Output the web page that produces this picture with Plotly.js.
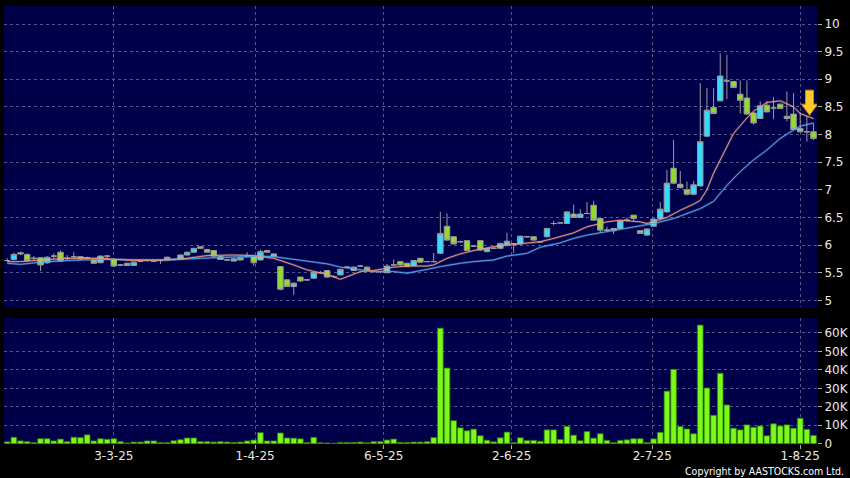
<!DOCTYPE html>
<html>
<head>
<meta charset="utf-8">
<script src="https://cdn.plot.ly/plotly-3.0.1.min.js"></script>
<style>
  html, body { margin: 0; padding: 0; background: #000; }
  #chart { width: 850px; height: 478px; }
</style>
</head>
<body>
<div id="chart"></div>
<script>
// ---- Data (trading-day index order) ----
const openPx = [5.72,5.74,5.86,5.83,5.76,5.77,5.68,5.80,5.87,5.76,
  5.79,5.79,5.77,5.73,5.68,5.80,5.74,5.64,5.63,5.63,
  5.71,5.72,5.71,5.72,5.78,5.74,5.74,5.82,5.87,5.97,
  5.92,5.90,5.74,5.73,5.71,5.73,5.79,5.79,5.73,5.90,
  5.79,5.61,5.37,5.25,5.42,5.37,5.40,5.50,5.54,5.43,
  5.46,5.60,5.54,5.62,5.60,5.52,5.52,5.50,5.64,5.70,
  5.67,5.63,5.76,5.70,5.70,5.85,6.34,6.15,6.06,6.08,
  5.98,6.08,5.88,5.94,5.94,6.00,6.02,6.02,6.15,6.15,
  6.06,6.15,6.39,6.40,6.39,6.56,6.50,6.57,6.72,6.48,
  6.27,6.26,6.30,6.45,6.54,6.26,6.18,6.34,6.48,6.60,
  7.39,7.10,7.00,6.92,7.07,7.97,8.49,8.61,8.97,8.96,
  8.73,8.66,8.39,8.29,8.53,8.48,8.55,8.29,8.37,8.11,
  8.05,8.05];
const highPx = [5.76,5.86,5.88,5.85,5.80,5.78,5.80,5.85,5.90,5.82,
  5.87,5.80,5.79,5.75,5.81,5.82,5.75,5.65,5.68,5.70,
  5.74,5.74,5.72,5.73,5.79,5.75,5.83,5.88,5.95,5.98,
  5.93,5.91,5.80,5.75,5.76,5.78,5.87,5.80,5.92,5.91,
  5.85,5.62,5.38,5.32,5.43,5.38,5.51,5.53,5.55,5.45,
  5.57,5.61,5.61,5.64,5.61,5.53,5.53,5.66,5.74,5.71,
  5.68,5.73,5.77,5.71,5.86,6.60,6.57,6.16,6.08,6.09,
  5.99,6.09,5.95,5.96,6.04,6.22,6.03,6.17,6.16,6.16,
  6.07,6.31,6.44,6.41,6.61,6.73,6.65,6.78,6.80,6.49,
  6.33,6.31,6.45,6.50,6.55,6.27,6.30,6.48,6.78,7.36,
  7.90,7.34,7.15,7.16,8.93,8.84,8.84,9.47,9.44,8.97,
  8.98,8.98,8.40,8.60,8.60,8.68,8.56,8.78,8.75,8.40,
  8.33,8.20];
const lowPx = [5.70,5.72,5.82,5.70,5.71,5.53,5.66,5.75,5.70,5.72,
  5.75,5.73,5.74,5.66,5.67,5.75,5.60,5.62,5.62,5.62,
  5.69,5.70,5.70,5.66,5.73,5.72,5.73,5.81,5.86,5.93,
  5.86,5.79,5.73,5.71,5.70,5.72,5.78,5.63,5.72,5.86,
  5.78,5.18,5.24,5.10,5.33,5.36,5.39,5.49,5.41,5.41,
  5.45,5.58,5.53,5.61,5.54,5.51,5.49,5.49,5.63,5.63,
  5.60,5.62,5.68,5.69,5.69,5.84,6.08,6.01,6.05,5.89,
  5.97,5.90,5.87,5.93,5.93,5.99,5.86,6.01,6.14,6.08,
  6.05,6.14,6.36,6.39,6.38,6.49,6.49,6.56,6.44,6.22,
  6.26,6.20,6.29,6.42,6.44,6.20,6.17,6.33,6.47,6.59,
  7.10,7.02,6.90,6.90,7.06,7.96,8.37,8.60,8.64,8.84,
  8.38,8.36,8.18,8.28,8.40,8.28,8.46,8.24,8.08,8.04,
  7.87,7.90];
const closePx = [5.72,5.83,5.84,5.72,5.76,5.64,5.78,5.80,5.71,5.76,
  5.79,5.75,5.77,5.67,5.80,5.80,5.62,5.64,5.67,5.69,
  5.71,5.72,5.71,5.72,5.74,5.74,5.82,5.87,5.94,5.94,
  5.87,5.80,5.79,5.73,5.75,5.77,5.79,5.68,5.88,5.87,
  5.84,5.20,5.25,5.31,5.35,5.37,5.50,5.50,5.42,5.43,
  5.56,5.60,5.60,5.62,5.55,5.52,5.52,5.62,5.64,5.64,
  5.61,5.72,5.69,5.70,5.70,6.21,6.09,6.02,6.06,5.90,
  5.98,5.91,5.94,5.94,6.03,6.07,6.02,6.16,6.15,6.09,
  6.06,6.30,6.39,6.40,6.60,6.50,6.56,6.57,6.45,6.27,
  6.27,6.30,6.44,6.45,6.48,6.21,6.29,6.47,6.65,7.12,
  7.12,7.04,6.92,7.09,7.87,8.44,8.38,9.06,8.97,8.85,
  8.62,8.37,8.21,8.52,8.41,8.48,8.47,8.33,8.09,8.05,
  8.05,7.93];
const volume = [1000,3500,1500,1100,600,2700,2700,1500,2500,1100,
  3500,3300,4800,1500,2700,2400,2700,1100,400,900,
  900,1500,1500,600,600,1600,2200,3100,3100,1100,
  1100,900,1100,900,700,900,1500,2000,6000,1500,
  1500,5800,3100,3000,2600,600,3400,500,400,200,
  700,700,700,900,500,1100,1100,2000,2500,700,
  700,900,900,1100,3300,62600,41000,12500,8600,7000,
  7900,4300,1900,1000,3200,6300,600,3200,1700,1800,
  1300,7500,7500,2300,9400,4600,1600,6600,3000,5400,
  1800,600,1800,2100,2700,2700,600,2600,6200,28500,
  40300,9300,8000,5400,64300,30200,15400,38200,21000,8400,
  7500,10200,8900,9600,4300,10800,9600,10200,8400,13800,
  7800,4500];

// Moving-average lines (index, value)
const ma10Idx = [0,2,5,9,14,19,24,27,30,34,37,40,43,45,48,50,53,55,58,60,63,64,66,68,70,73,75,78,80,82,85,87,90,92,95,96,99,101,103,104,105,106,108,109,111,112,114,115,116,118,119,121];
const ma10Val = [5.70,5.70,5.73,5.76,5.76,5.72,5.73,5.76,5.81,5.82,5.81,5.76,5.64,5.55,5.47,5.38,5.52,5.54,5.60,5.62,5.62,5.64,5.76,5.84,5.90,5.97,6.00,6.03,6.06,6.12,6.22,6.33,6.42,6.45,6.42,6.39,6.50,6.63,6.74,6.81,7.00,7.30,7.80,8.02,8.30,8.42,8.58,8.60,8.61,8.50,8.38,8.29];
const ma20Idx = [0,2,5,9,14,19,24,29,34,38,40,43,45,48,50,53,55,58,60,63,65,68,70,73,75,78,80,83,85,87,90,92,95,97,100,102,104,106,108,110,112,114,116,118,119,121];
const ma20Val = [5.67,5.65,5.69,5.72,5.74,5.74,5.73,5.76,5.78,5.80,5.79,5.74,5.70,5.66,5.60,5.55,5.52,5.52,5.49,5.56,5.61,5.67,5.70,5.73,5.80,5.85,5.96,6.04,6.12,6.18,6.24,6.28,6.34,6.39,6.48,6.57,6.66,6.79,7.08,7.33,7.54,7.72,7.93,8.08,8.15,8.21];

// Axis ticks
const dateTickIdx = [16, 37.2, 56.5, 75.7, 96.8, 119];
const dateTickText = ['3-3-25','1-4-25','6-5-25','2-6-25','2-7-25','1-8-25'];
const priceTicks = [5,5.5,6,6.5,7,7.5,8,8.5,9,9.5,10];
const priceTickText = ['5','5.5','6','6.5','7','7.5','8','8.5','9','9.5','10'];
const volTicks = [0,10000,20000,30000,40000,50000,60000];
const volTickText = ['0','10K','20K','30K','40K','50K','60K'];

// Signal arrow location (index, price at tip)
const arrowAt = {idx: 120.4, price: 8.35};

// ---- Build ----
const idx = openPx.map((_, i) => i);
const GRID = '#55558a';
const FONT = {family: 'DejaVu Sans, Verdana, sans-serif', size: 12, color: '#e8e8e8'};

const traces = [
  {type: 'bar', x: idx, y: volume, xaxis: 'x', yaxis: 'y2',
   marker: {color: '#7cf81a', line: {color: '#2f7d05', width: 0.8}},
   hoverinfo: 'skip', showlegend: false},
  {type: 'scatter', mode: 'lines', x: ma20Idx, y: ma20Val, xaxis: 'x', yaxis: 'y',
   line: {color: 'rgba(220,235,255,0.2)', width: 2.4}, hoverinfo: 'skip', showlegend: false},
  {type: 'scatter', mode: 'lines', x: ma10Idx, y: ma10Val, xaxis: 'x', yaxis: 'y',
   line: {color: 'rgba(255,235,225,0.2)', width: 2.4}, hoverinfo: 'skip', showlegend: false},
  {type: 'scatter', mode: 'lines', x: ma20Idx, y: ma20Val, xaxis: 'x', yaxis: 'y',
   line: {color: '#3fa6ee', width: 1}, hoverinfo: 'skip', showlegend: false},
  {type: 'scatter', mode: 'lines', x: ma10Idx, y: ma10Val, xaxis: 'x', yaxis: 'y',
   line: {color: '#ee9272', width: 1}, hoverinfo: 'skip', showlegend: false},
  {type: 'candlestick', x: idx, open: openPx, high: highPx, low: lowPx, close: closePx,
   xaxis: 'x', yaxis: 'y',
   increasing: {line: {color: '#9a9a9a', width: 1}, fillcolor: '#33dcff'},
   decreasing: {line: {color: '#9a9a9a', width: 1}, fillcolor: '#92dc2c'},
   whiskerwidth: 0, hoverinfo: 'skip', showlegend: false}
];

const layout = {
  width: 850, height: 478,
  paper_bgcolor: '#000000', plot_bgcolor: '#00004a',
  margin: {l: 4, r: 33, t: 6, b: 34},
  font: FONT,
  showlegend: false,
  bargap: 0.15,
  boxgap: 0.18,
  boxgroupgap: 0,
  xaxis: {
    anchor: 'y2', range: [-0.48, 121.52],
    tickvals: dateTickIdx, ticktext: dateTickText,
    ticks: 'outside', ticklen: 4, tickcolor: '#aaaaaa',
    ticklabelstandoff: -3,
    showgrid: true, gridcolor: GRID, griddash: '3px,3px', gridwidth: 1,
    zeroline: false, showline: false, fixedrange: true,
    rangeslider: {visible: false},
    tickfont: FONT
  },
  yaxis: {
    domain: [0.3128, 1], side: 'right', anchor: 'x',
    range: [4.879, 10.326],
    tickvals: priceTicks, ticktext: priceTickText,
    ticks: 'outside', ticklen: 4, tickcolor: '#aaaaaa',
    showgrid: true, gridcolor: GRID, griddash: '3px,3px', gridwidth: 1,
    zeroline: false, showline: false, tickfont: FONT
  },
  yaxis2: {
    domain: [0, 0.2877], side: 'right', anchor: 'x',
    range: [-160, 68130],
    tickvals: volTicks, ticktext: volTickText,
    ticks: 'outside', ticklen: 4, tickcolor: '#aaaaaa',
    showgrid: true, gridcolor: GRID, griddash: '3px,3px', gridwidth: 1,
    zeroline: false, showline: false, tickfont: FONT
  },
  shapes: [{
    type: 'path', xref: 'x', yref: 'y',
    xsizemode: 'pixel', ysizemode: 'pixel',
    xanchor: arrowAt.idx, yanchor: arrowAt.price,
    path: 'M -4,25 L 4,25 L 4,11 L 8,11 L 0,0 L -8,11 L -4,11 Z',
    fillcolor: '#ffcc2e', line: {color: '#d08a10', width: 1}, layer: 'above'
  }],
  annotations: [{
    xref: 'paper', yref: 'paper', x: 1, y: -0.0617,
    xanchor: 'right', yanchor: 'middle', showarrow: false,
    xshift: 29,
    text: 'Copyright by AASTOCKS.com Ltd.',
    font: {family: 'DejaVu Sans Condensed, DejaVu Sans, sans-serif', size: 10.5, color: '#ffffff'}
  }]
};

Plotly.newPlot('chart', traces, layout, {staticPlot: true, displayModeBar: false});
</script>
</body>
</html>
